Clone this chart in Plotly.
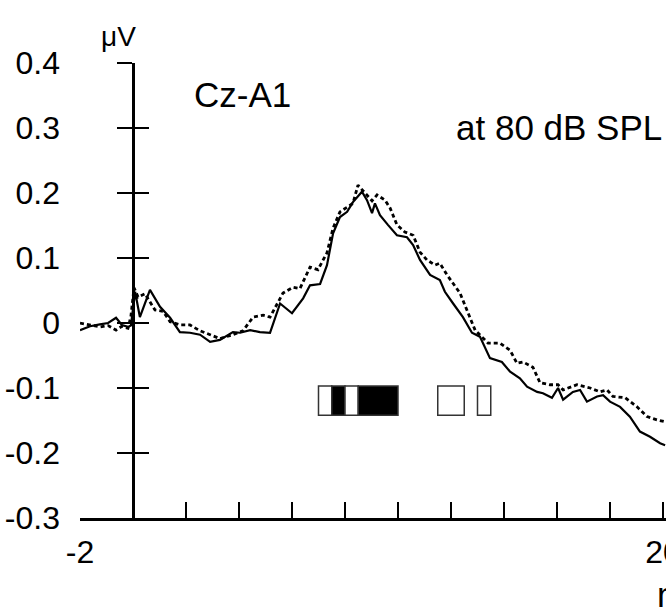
import plotly.graph_objects as go

# ---- data ----
solid_t = [-2.0, -1.62, -1.25, -0.94, -0.64, -0.42, -0.19, -0.08, 0.08, 0.26, 0.64, 1.02, 1.40, 1.77,
           2.15, 2.53, 2.91, 3.28, 3.77, 4.04, 4.42, 4.79, 5.17, 5.55, 6.0, 6.42, 6.68, 7.06, 7.32,
           7.55, 7.81, 8.08, 8.30, 8.64, 8.83, 9.02, 9.13, 9.32, 9.62, 9.96, 10.34, 10.57, 10.83,
           11.21, 11.58, 11.77, 12.08, 12.45, 12.79, 13.09, 13.47, 13.92, 14.23, 14.60, 14.87,
           15.25, 15.47, 15.81, 16.04, 16.23, 16.60, 16.87, 17.13, 17.51, 17.74, 18.0, 18.38,
           18.75, 19.13, 19.51, 19.89, 20.08]
solid_v = [-0.011, -0.005, -0.002, 0.000, 0.008, -0.003, -0.006, -0.004, 0.048, 0.009, 0.051, 0.025,
           0.008, -0.014, -0.015, -0.018, -0.029, -0.026, -0.014, -0.015, -0.011, -0.014, -0.015,
           0.030, 0.015, 0.038, 0.058, 0.060, 0.089, 0.138, 0.163, 0.171, 0.186, 0.202, 0.189,
           0.169, 0.184, 0.166, 0.151, 0.135, 0.132, 0.120, 0.097, 0.074, 0.066, 0.048, 0.030,
           0.009, -0.015, -0.021, -0.054, -0.060, -0.075, -0.085, -0.098, -0.106, -0.108, -0.115,
           -0.100, -0.118, -0.106, -0.103, -0.121, -0.113, -0.111, -0.121, -0.129, -0.144, -0.167,
           -0.175, -0.185, -0.188]

dashed_t = [-2.0, -1.62, -1.25, -0.94, -0.64, -0.42, -0.19, -0.08, 0.04, 0.19, 0.45, 0.83, 1.13,
            1.40, 1.77, 2.15, 2.53, 2.91, 3.28, 3.77, 4.15, 4.53, 4.91, 5.17, 5.43, 5.66, 6.04,
            6.30, 6.68, 6.98, 7.32, 7.55, 7.81, 8.08, 8.30, 8.49, 8.64, 8.83, 9.02, 9.21, 9.51,
            9.70, 9.96, 10.26, 10.57, 10.83, 11.09, 11.40, 11.58, 11.85, 12.15, 12.34, 12.60,
            12.91, 13.40, 13.85, 14.23, 14.49, 14.72, 15.09, 15.36, 15.74, 16.04, 16.23, 16.75,
            17.25, 17.62, 17.89, 18.11, 18.57, 19.02, 19.40, 19.77, 20.08]
dashed_v = [0.000, -0.003, -0.006, -0.004, -0.011, -0.005, -0.008, 0.010, 0.054, 0.040, 0.045, 0.020,
            0.018, 0.002, -0.003, -0.003, -0.012, -0.018, -0.024, -0.018, -0.012, 0.009, 0.012,
            0.009, 0.028, 0.046, 0.055, 0.053, 0.086, 0.082, 0.108, 0.146, 0.171, 0.178, 0.184,
            0.212, 0.205, 0.197, 0.188, 0.197, 0.189, 0.177, 0.151, 0.140, 0.135, 0.109, 0.097,
            0.089, 0.092, 0.074, 0.058, 0.046, 0.020, -0.011, -0.031, -0.031, -0.042, -0.062,
            -0.060, -0.068, -0.092, -0.095, -0.095, -0.103, -0.095, -0.100, -0.106, -0.103,
            -0.113, -0.115, -0.129, -0.144, -0.149, -0.152]

# significance bins (start ms, width ms, filled?)
bin_start = [7.0, 7.5, 8.0, 8.5, 11.5, 13.0]
bin_width = [0.5, 0.5, 0.5, 1.5, 1.0, 0.5]
bin_filled = [False, True, False, True, False, False]
bin_low, bin_high = -0.142, -0.097

x_ticks = [-2, 0, 2, 4, 6, 8, 10, 12, 14, 16, 18, 20]
x_ticktext = ["-2", "", "", "", "", "", "", "", "", "", "", "20"]
y_ticks = [-0.3, -0.2, -0.1, 0, 0.1, 0.2, 0.3, 0.4]
y_ticktext = ["-0.3", "-0.2", "-0.1", "0", "0.1", "0.2", "0.3", "0.4"]

FONT = "Arial, Liberation Sans, sans-serif"
FS = 35
TFS = 32

fig = go.Figure()
fig.add_trace(go.Bar(
    x=[s + w / 2 for s, w in zip(bin_start, bin_width)],
    y=[bin_high - bin_low] * len(bin_start),
    base=[bin_low] * len(bin_start),
    width=bin_width,
    marker=dict(color=["black" if f else "white" for f in bin_filled],
                line=dict(color="#333333", width=1.5)),
    yaxis="y", showlegend=False, hoverinfo="skip"))
fig.add_trace(go.Scatter(x=dashed_t, y=dashed_v, mode="lines",
                         line=dict(color="black", width=2.8, dash="4px,3px"),
                         yaxis="y2", showlegend=False))
fig.add_trace(go.Scatter(x=solid_t, y=solid_v, mode="lines",
                         line=dict(color="black", width=2.2),
                         yaxis="y3", showlegend=False))

# the body margin is removed by the post script, so figure pixels == window pixels
W, H = 666, 613
win_left, win_right, win_top, win_bottom = 80, 666, 63, 518
L, T = win_left, win_top
R, B = W - win_right, H - win_bottom
x_lo = -2
x_hi = x_lo + (win_right - win_left) / 26.5
ypos = (0 - x_lo) / (x_hi - x_lo)

common_y = dict(range=[-0.3, 0.4], showgrid=False, zeroline=False, fixedrange=True)
fig.update_layout(
    width=W, height=H,
    margin=dict(l=L, r=R, t=T, b=B),
    paper_bgcolor="white", plot_bgcolor="white",
    font=dict(family=FONT, size=FS, color="black"),
    hovermode=False,
    xaxis=dict(range=[x_lo, x_hi], showgrid=False, zeroline=False,
               showline=True, linecolor="black", linewidth=2.5,
               ticks="inside", ticklen=16, tickwidth=1.5, tickcolor="black",
               tickvals=x_ticks, ticktext=x_ticktext, tickfont=dict(size=TFS),
               ticklabelstandoff=4, ticklabeloverflow="allow", automargin=False,
               fixedrange=True),
    yaxis=dict(**common_y, showline=False, ticks="", tickvals=y_ticks, ticktext=y_ticktext,
               tickfont=dict(size=TFS), ticklabelstandoff=19, ticklabeloverflow="allow",
               automargin=False),
    yaxis2=dict(**common_y, overlaying="y", anchor="free", position=ypos,
                showline=True, linecolor="black", linewidth=2.5,
                ticks="outside", ticklen=15, tickwidth=1.5, tickcolor="black",
                tickvals=y_ticks[1:], showticklabels=False),
    yaxis3=dict(**common_y, overlaying="y", anchor="free", position=ypos,
                showline=False, ticks="inside", ticklen=15, tickwidth=1.5, tickcolor="black",
                tickvals=y_ticks[1:], showticklabels=False),
)

# text labels placed at window pixel positions (converted to paper coords)
pw, ph = W - L - R, H - T - B
labels = [("μV", 118, 36, "center", 28),
          ("Cz-A1", 192, 95, "left", FS),
          ("at 80 dB SPL", 454, 127, "left", FS),
          ("ms", 655, 594, "left", FS)]
for text, wx, wy, xa, fs in labels:
    fig.add_annotation(text=text, x=(wx - L) / pw, y=(H - B - wy) / ph,
                       xref="paper", yref="paper", showarrow=False,
                       xanchor=xa, yanchor="middle", font=dict(size=fs))

fig.write_html("out.html",
               config={"displayModeBar": False, "staticPlot": True},
               post_script="document.body.style.margin='0';document.body.style.overflow='hidden';")
